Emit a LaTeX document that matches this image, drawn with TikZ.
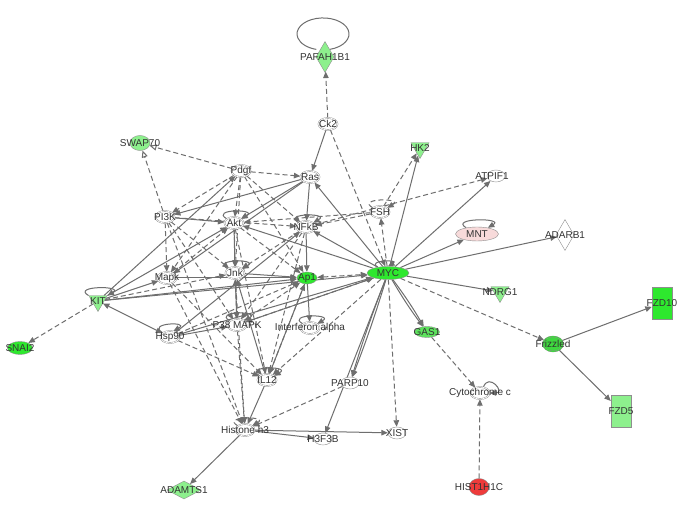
\documentclass[tikz,border=0pt]{standalone}
\usepackage{fontspec}
\setmainfont{Liberation Sans}
\usetikzlibrary{arrows.meta,shapes.geometric,backgrounds}
\definecolor{linkgray}{HTML}{6E6E6E}
\definecolor{rimgray}{HTML}{8E8E8E}
\definecolor{textgray}{HTML}{333333}
\definecolor{upgreen}{HTML}{2EE82E}
\definecolor{palegreen}{HTML}{8DF08D}
\definecolor{midgreen}{HTML}{5DE35D}
\definecolor{frizgreen}{HTML}{3ED83E}
\definecolor{blush}{HTML}{F7DADA}
\definecolor{hotred}{HTML}{EE3B3B}

\begin{document}
\begin{tikzpicture}[x=1pt,y=1pt,>={Triangle[length=6.5pt,width=5.5pt]},every node/.style={font=\fontsize{10}{11}\selectfont,text=textgray},gene/.style={ellipse,draw=rimgray,double=white,double distance=0.7pt,fill=white,minimum width=19pt,minimum height=12pt,inner sep=0pt},plain/.style={ellipse,draw=rimgray,fill=white,minimum width=18pt,minimum height=12pt,inner sep=0pt},hit/.style={ellipse,draw=rimgray,fill=#1,minimum width=20pt,minimum height=13pt,inner sep=0pt},trig/.style={regular polygon,regular polygon sides=3,shape border rotate=180,minimum size=21pt,inner sep=0pt,draw=rimgray,fill=#1},gem/.style={diamond,draw=rimgray,fill=#1,minimum width=18pt,minimum height=31pt,inner sep=0pt},slab/.style={rectangle,draw=rimgray,fill=#1,minimum width=20pt,minimum height=32pt,inner sep=0pt},link/.style={draw=linkgray,line width=1pt,->},dlink/.style={link,dash pattern=on 5pt off 3pt},twoway/.style={<->},hollow/.style={-{Triangle[length=7pt,width=6pt,fill=white]}},selfloop/.style={out=150,in=30,min distance=#1}]
\useasboundingbox (0,0) rectangle (685,513);
\node[gem=palegreen,label={center:PAFAH1B1}] (pafah) at (325,456) {};
\node[gene,label={center:Ck2}] (ck2) at (328,389) {};
\node[hit=palegreen,minimum height=15pt,label={center:SWAP70}] (swap70) at (140,370) {};
\node[gene,label={center:Pdgf}] (pdgf) at (241,342) {};
\node[gene,label={center:Ras}] (ras) at (310,336) {};
\node[trig=palegreen,label={center:HK2}] (hk2) at (420,365) {};
\node[plain,label={[xshift=-4pt]center:ATPIF1}] (atpif1) at (496,337) {};
\node[gene,label={center:FSH}] (fsh) at (380,301) {};
\node[gene,label={center:PI3K}] (pi3k) at (165,296) {};
\node[gene,label={center:Akt}] (akt) at (234,290) {};
\node[gene,label={center:NFkB}] (nfkb) at (306,286) {};
\node[hit=blush,minimum width=43pt,minimum height=14pt,label={center:MNT}] (mnt) at (477,279) {};
\node[gem=white,label={center:ADARB1}] (adarb1) at (565,278) {};
\node[gene,label={center:Mapk}] (mapk) at (167,235) {};
\node[gene,label={center:Jnk}] (jnk) at (235,240) {};
\node[hit=upgreen,minimum height=12pt,label={center:Ap1}] (ap1) at (307,235) {};
\node[hit=upgreen,minimum width=42pt,label={center:MYC}] (myc) at (388,240) {};
\node[trig=palegreen,label={center:KIT}] (kit) at (98,212) {};
\node[trig=palegreen,label={center:NDRG1}] (ndrg1) at (500,221) {};
\node[slab=upgreen,label={center:FZD10}] (fzd10) at (662,210) {};
\node[hit=upgreen,minimum width=25pt,label={center:SNAI2}] (snai2) at (20,165) {};
\node[gene,label={center:Hsp90}] (hsp90) at (170,176) {};
\node[gene,label={center:P38 MAPK}] (pmapk) at (237,188) {};
\node[gene,label={center:Interferon alpha}] (ifna) at (310,185) {};
\node[hit=midgreen,minimum width=25pt,minimum height=11pt,label={center:GAS1}] (gas1) at (427,181) {};
\node[hit=frizgreen,double=upgreen,double distance=0.6pt,minimum height=15pt,label={center:Frizzled}] (frizzled) at (553,169) {};
\node[gene,label={center:IL12}] (il12) at (267,133) {};
\node[plain,label={center:PARP10}] (parp10) at (350,130) {};
\node[gene,label={center:Cytochrome c}] (cytc) at (480,120) {};
\node[slab=palegreen,label={center:FZD5}] (fzd5) at (621,102) {};
\node[gene,label={center:Histone h3}] (hist) at (245,83) {};
\node[plain,label={center:H3F3B}] (h3f3b) at (323,74) {};
\node[plain,label={center:XIST}] (xist) at (397,80) {};
\node[gem=palegreen,minimum width=34pt,minimum height=18pt,label={center:ADAMTS1}] (adamts1) at (184,23) {};
\node[hit=hotred,minimum height=17pt,label={center:HIST1H1C}] (hist1h1c) at (479,26) {};
\begin{scope}[on background layer]
\fill[white] (0,0) rectangle (685,513);
% solid relations
\draw[link] (ck2) -- (ras);
\draw[link] (myc) -- (hk2);
\draw[link] (myc) -- (atpif1);
\draw[link] (myc) -- (mnt);
\draw[link] (myc) -- (adarb1);
\draw[link] (myc) -- (ndrg1);
\draw[link] (myc) to[bend left=3] (gas1);
\draw[link] (myc) to[bend right=3] (gas1);
\draw[link] (myc) to[bend left=2] (parp10);
\draw[link] (myc) to[bend right=2] (parp10);
\draw[link] (myc) -- (h3f3b);
\draw[link] (myc) -- (ras);
\draw[link] (myc) -- (nfkb);
\draw[link] (myc) -- (akt);
\draw[link] (frizzled) -- (fzd10);
\draw[link] (frizzled) -- (fzd5);
\draw[link] (kit) -- (pdgf);
\draw[link] (kit) -- (mapk);
\draw[link] (kit) -- (akt);
\draw[link] (kit) -- (ap1);
\draw[link] (kit) -- (myc);
\draw[link,twoway] (kit) -- (hsp90);
\draw[link] (hsp90) -- (pmapk);
\draw[link] (hsp90) -- (nfkb);
\draw[link] (ras) -- (pi3k);
\draw[link] (ras) -- (akt);
\draw[link] (ras) -- (nfkb);
\draw[link] (ras) -- (mapk);
\draw[link] (pi3k) -- (akt);
\draw[link] (akt) -- (jnk);
\draw[link] (nfkb) -- (ap1);
\draw[link] (jnk) -- (ap1);
\draw[link] (mapk) -- (ap1);
\draw[link,twoway] (pmapk) -- (jnk);
\draw[link] (ap1) -- (ifna);
\draw[link] (pmapk) -- (myc);
\draw[link] (hsp90) -- (myc);
\draw[link] (il12) -- (hist);
\draw[link] (il12) -- (ap1);
\draw[link] (il12) -- (jnk);
\draw[link] (hist) -- (adamts1);
\draw[link] (hist) -- (h3f3b);
\draw[link] (hist) -- (xist);
% dashed relations
\draw[dlink] (ck2) -- (pafah);
\draw[dlink,hollow] (pdgf) -- (swap70);
\draw[dlink,hollow] (pi3k) -- (swap70);
\draw[dlink] (pdgf) -- (ras);
\draw[dlink] (pdgf) -- (pi3k);
\draw[dlink] (pdgf) -- (akt);
\draw[dlink] (pdgf) -- (nfkb);
\draw[dlink] (pdgf) -- (jnk);
\draw[dlink] (pdgf) -- (ap1);
\draw[dlink] (pdgf) -- (mapk);
\draw[dlink] (ck2) -- (myc);
\draw[dlink] (fsh) -- (hk2);
\draw[dlink] (fsh) -- (akt);
\draw[dlink] (fsh) -- (nfkb);
\draw[dlink] (myc) -- (fsh);
\draw[dlink] (nfkb) -- (atpif1);
\draw[dlink] (myc) -- (frizzled);
\draw[dlink] (myc) -- (xist);
\draw[dlink] (myc) -- (pmapk);
\draw[dlink] (myc) -- (il12);
\draw[dlink,twoway] (ap1) -- (myc);
\draw[dlink] (gas1) -- (cytc);
\draw[dlink] (hist1h1c) -- (cytc);
\draw[dlink] (kit) -- (snai2);
\draw[dlink] (kit) -- (jnk);
\draw[dlink] (pi3k) -- (mapk);
\draw[dlink] (pi3k) -- (jnk);
\draw[dlink] (pi3k) -- (hist);
\draw[dlink] (pi3k) -- (pmapk);
\draw[dlink] (pi3k) -- (nfkb);
\draw[dlink] (mapk) -- (hist);
\draw[dlink] (mapk) -- (il12);
\draw[dlink] (mapk) -- (akt);
\draw[dlink] (hsp90) -- (il12);
\draw[dlink] (hsp90) -- (ap1);
\draw[dlink] (pmapk) -- (hist);
\draw[dlink] (pmapk) -- (ap1);
\draw[dlink] (parp10) -- (hist);
\draw[dlink] (akt) -- (pmapk);
\draw[dlink] (akt) -- (il12);
\draw[dlink] (akt) -- (ap1);
\draw[dlink] (nfkb) -- (il12);
\draw[dlink] (nfkb) -- (pmapk);
\draw[dlink] (nfkb) -- (jnk);
\draw[dlink] (ap1) -- (il12);
\draw[dlink] (jnk) -- (hist);
% self loops
\draw[link,-] (pafah.58) arc[start angle=-75,end angle=255,x radius=26,y radius=16];
\draw[link] (mnt.150) to[selfloop=20pt] (mnt.30);
\draw[link] (kit.150) to[selfloop=20pt] (kit.30);
\draw[link] (hsp90.150) to[selfloop=20pt] (hsp90.60);
\draw[link] (myc.150) to[selfloop=14pt] (myc.90);
\draw[dlink] (fsh.150) to[selfloop=20pt] (fsh.30);
\draw[link] (cytc.60) to[out=70,in=0,min distance=16pt] (cytc.0);
\draw[link] (akt.150) to[selfloop=20pt] (akt.30);
\draw[link] (nfkb.150) to[selfloop=20pt] (nfkb.30);
\draw[link] (jnk.150) to[selfloop=20pt] (jnk.30);
\draw[link] (ifna.150) to[selfloop=20pt] (ifna.30);
\draw[link] (pmapk.150) to[selfloop=20pt] (pmapk.30);
\draw[link] (il12.150) to[selfloop=20pt] (il12.30);
\draw[dlink] (hist.150) to[selfloop=20pt] (hist.30);
\end{scope}
\end{tikzpicture}
\end{document}
